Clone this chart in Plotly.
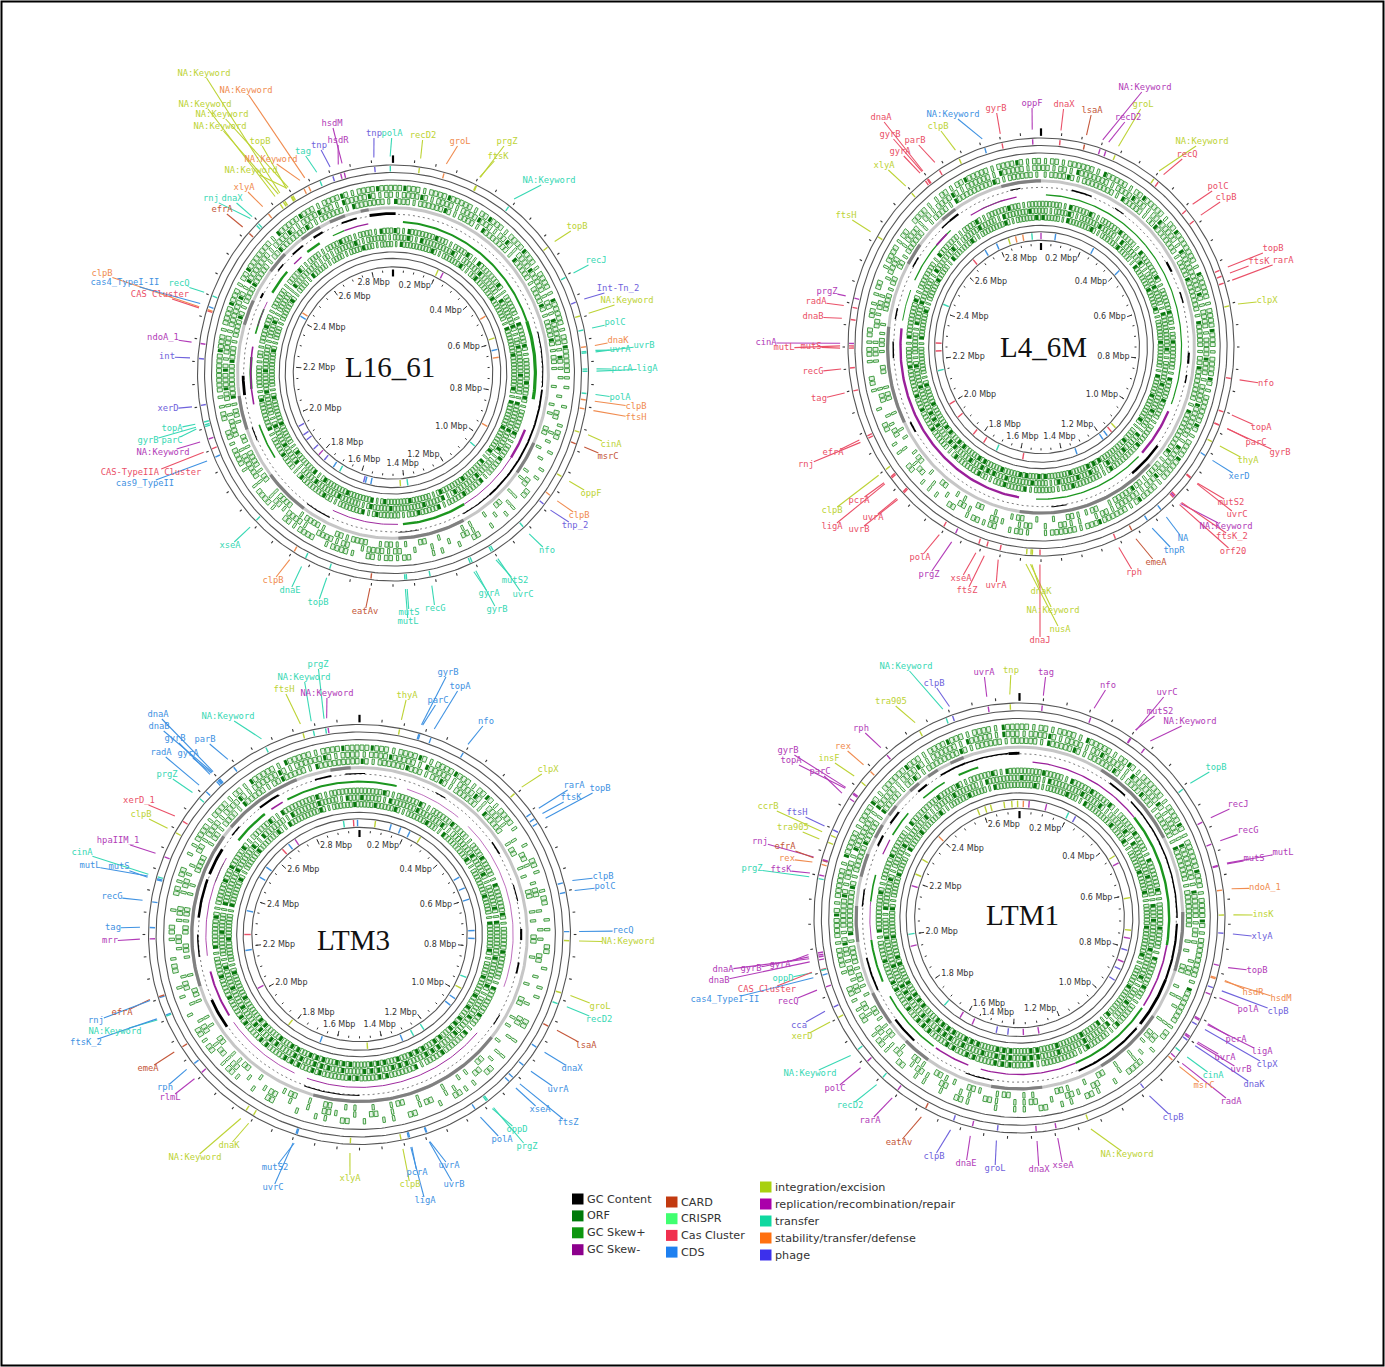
import numpy as np
import plotly.graph_objects as go

W, H = 1385, 1367

COLORS = {'I': '#bdd335', 'R': '#b23cb8', 'T': '#38d8b4', 'S': '#f08c50', 'P': '#6f62dc',
          'A': '#c4573a', 'C': '#ea5068', 'D': '#3f92e2'}

# ---- L16_61 ----
L16_NAMES = ['NA:Keyword', 'NA:Keyword', 'NA:Keyword', 'NA:Keyword', 'NA:Keyword', 'topB', 'NA:Keyword', 'NA:Keyword',
             'xlyA', 'rnj', 'dnaX', 'efrA', 'tag', 'tnp', 'hsdM', 'hsdR', 'tnp', 'polA', 'recD2', 'groL', 'prgZ', 'ftsK',
             'NA:Keyword', 'topB', 'recJ', 'Int-Tn_2', 'NA:Keyword', 'polC', 'dnaK', 'uvrB', 'uvrA', 'pcrA', 'ligA', 'polA',
             'clpB', 'ftsH', 'cinA', 'msrC', 'oppF', 'clpB', 'tnp_2', 'nfo', 'uvrC', 'mutS2', 'gyrA', 'gyrB', 'recG', 'mutS',
             'mutL', 'eatAv', 'topB', 'dnaE', 'clpB', 'xseA', 'cas9_TypeII', 'CAS-TypeIIA Cluster', 'NA:Keyword', 'parC',
             'gyrB', 'topA', 'xerD', 'int', 'ndoA_1', 'CAS Cluster', 'clpB', 'cas4_TypeI-II', 'recQ']
L16_KINDS = 'ISIIIISISTTATPRRPTISIITITPITSTTTTTSSIAISPTTTTTTTTATTSTDCRTTTPPRCSDT'
L16_DEG = [-33.8, -25.7, -35.4, -31, -34.3, -31.6, -27.2, -31.4, -39.8, -44.5, -43.8, -47.6, -22, -18, -14.5, -15.6, -5.4,
           -0.8, 7.8, 15.2, 25.4, 25.2, 36.5, 52.6, 62.5, 70, 74, 78, 82.7, 84.4, 84, 88.9, 89.5, 95.7, 97.5, 100, 106.6,
           110, 120, 126.2, 129.3, 138, 149, 149.6, 156.6, 156, 169, 176, 176.5, 186.5, 199, 206.7, 210.5, 224.6, 246,
           248.5, 251.4, 255, 255.5, 256.3, 261, 274, 278.2, 287.5, 287.8, 288.7, 291.9]
L16_LAB_X = [204, 246, 205, 222, 220, 260, 271, 251, 244, 211, 232, 222, 303, 319, 332, 338, 374, 392, 423, 460, 507, 498,
             549, 577, 596, 618, 627, 615, 618, 644, 620, 622, 647, 620, 636, 636, 611, 608, 591, 579, 575, 547, 523, 515,
             489, 497, 435, 409, 408, 365, 318, 290, 273, 230, 145, 151, 163, 172, 148, 172, 168, 167, 163, 160, 102, 125, 179]
L16_LAB_Y = [74, 91, 105, 115, 127, 142, 160, 171, 188, 199, 199, 210, 152, 146, 124, 141, 134, 134, 136, 142, 142, 157,
             181, 227, 261, 289, 301, 323, 341, 346, 350, 369, 369, 398, 407, 418, 445, 457, 494, 516, 526, 551, 595, 581,
             594, 610, 609, 613, 622, 612, 603, 591, 581, 546, 484, 473, 453, 441, 441, 429, 409, 357, 338, 295, 274, 283, 284]
L16_INNER_DEG = [-168, -165, -150, -146, -140, -132, -126, -118, -60, -58, 25, 28, 60, 72, 78, 82, 118, 130, 172, 176, 196, 224, 237]
L16_INNER_KIND = 'DDTDPPPPDSIRSIDSSTTIPRP'
L16_DARK = [(-73, -64), (-52, -44), (-36, -28), (-24, -18), (-12, -9), (115, 127), (153, 178), (215, 232), (250, 262)]
L16_GC = [(-9, 1, 4), (-20, -14, 2.5), (-32, -28, 3), (-42, -37, 2.5), (-50, -47, 2), (-62, -60, 3), (75, 95, 1.5),
          (96, 140, 2.5), (140, 152, 1.5), (262, 269, 4), (245, 250, 1.5), (205, 215, 1.5), (170, 178, 1)]
L16_SKEW_POS = [(4, 70, 2.5), (70, 100, 4), (150, 176, 3), (-37, -31, 3), (-25, -20, 1.5), (-58, -48, 3), (-75, -65, 2),
                (-96, -84, 3), (236, 250, 2)]
L16_SKEW_NEG = [(-20, -10, 1.5), (-44, -40, 1.5), (-72, -62, 1), (112, 124, 3), (124, 150, 1.2), (178, 205, 1.2), (258, 280, 2)]
L16_ORF = ['232122322123212232122132212322110101201011020110102010110021212012210221201221012212021122223212232123222132232122312232',
           '122312212232123122322121322131101020110100201101001201010102122102122012212101222102211232312212223132221223122321322312',
           '321222312213222132212231223121010110201001101020101100102011210221201221022102122120121322232122312232212322231222132221',
           '313222321223132223122213223122232312223122322132232213223212223132221232223122322132223122212122321222122312212232122132',
           '223132222312223222132223123222322132223223122232223132232222322312223222322132232231222322322212231222132222121222312221',
           '132222312223123222322213222322223132223222313222322231222322231322232223132223122232223122222312212223122132212212232122']
L4_NAMES = ['NA:Keyword', 'groL', 'recD2', 'lsaA', 'dnaX', 'oppF', 'gyrB', 'NA:Keyword', 'clpB', 'dnaA', 'gyrB', 'gyrA', 'parB',
            'xlyA', 'ftsH', 'prgZ', 'radA', 'dnaB', 'cinA', 'mutL', 'mutS', 'recG', 'tag', 'efrA', 'rnj', 'clpB', 'pcrA', 'ligA',
            'uvrA', 'uvrB', 'polA', 'prgZ', 'xseA', 'ftsZ', 'uvrA', 'dnaK', 'dnaJ', 'NA:Keyword', 'nusA', 'rph', 'emeA', 'tnpR',
            'NA', 'orf20', 'ftsK_2', 'NA:Keyword', 'uvrC', 'mutS2', 'xerD', 'thyA', 'gyrB', 'parC', 'topA', 'nfo', 'clpX', 'rarA',
            'ftsK', 'topB', 'clpB', 'polC', 'recQ', 'NA:Keyword']
L4_KINDS = 'RIRACRCDICCCCIIRCCRCCCCCCICCCCCRCCCICIICADDCCRCCDICCCCICCCCCCI'
L4_DEG = [17.9, 22.7, 19.7, 13.1, 5.7, -2.5, -11.7, -17, -25.2, -36, -36.3, -37, -31.9, -42.3, -58, -76.4, -79, -82.4, -89, -89.7,
          -90.3, 264.2, 257.8, 244.7, 244, 233.9, 231.4, 231, 225.9, 225.5, 210.4, 206.4, 198.9, 196.4, 192.3, 182.6, 180.3, 183,
          184.3, 157.2, 151.8, 146.4, 141.4, 136.4, 135.6, 136, 129, 128.8, 121.4, 117.1, 112.1, 112, 108.2, 98.7, 78.6, 72.1, 70.1,
          68.4, 52.7, 49, 37.6, 36]
L4_LAB_X = [1145, 1143, 1128, 1092, 1064, 1032, 996, 953, 938, 881, 890, 900, 915, 884, 846, 827, 816, 813, 766, 784, 811, 813,
            819, 833, 806, 832, 859, 832, 873, 859, 920, 929, 961, 967, 996, 1041, 1040, 1053, 1060, 1134, 1156, 1174, 1183, 1233,
            1232, 1226, 1237, 1231, 1239, 1248, 1280, 1256, 1261, 1266, 1267, 1283, 1259, 1273, 1226, 1218, 1187, 1202]
L4_LAB_Y = [88, 105, 118, 111, 105, 104, 109, 115, 127, 118, 135, 152, 141, 166, 216, 292, 302, 317, 343, 348, 347, 372,
            399, 453, 465, 511, 501, 527, 518, 530, 558, 575, 579, 591, 586, 592, 641, 611, 630, 573, 563, 551, 539, 552,
            537, 527, 515, 503, 477, 461, 453, 443, 428, 384, 301, 261, 262, 249, 198, 187, 155, 142]
L4_INNER_DEG = [-40, -32, -25, -18, -14, -10, -5, 0, 8, 30, 48, 135, 138, 141, 144, 160, 190, 205, 213, 220, 232, 240, 258, 268, 272, 292]
L4_INNER_KIND = 'CDDISSTRDDDICDDDCTCCCCTCCT'
L4_DARK = [(-60, -52), (-40, -34), (-15, 0), (135, 188), (243, 277)]
L4_GC = [(-38, -34, 3), (-12, -8, 1.5), (12, 20, 2), (30, 34, 1.5), (58, 62, 3), (70, 74, 2), (92, 96, 3), (100, 103, 2),
         (128, 142, 3.5), (170, 176, 1.5), (238, 242, 2.5), (266, 272, 2), (280, 284, 2), (300, 304, 2), (318, 322, 2)]
L4_SKEW_POS = [(2, 48, 1.6), (48, 112, 1.5), (136, 182, 1.6), (280, 292, 1.2), (296, 320, 1.6), (335, 345, 1)]
L4_SKEW_NEG = [(115, 134, 3), (189, 277, 3), (-30, -10, 1.5), (-48, -42, 2)]
L4_ORF = ['121222132212322123222132212232122312223122322122312223212221012102121020111020110201012012120211201221202211212322122312',
          '212132221223212322132222312212232122322213222321222121011201021012001201010210102110210012102121012201221212231222132212',
          '122312222132212322212232221322123222132222312212322102112010102101020110201021011010210201211022120212221122132222312221',
          '222132231222322132223122232123222132232212223222231222232122213223212322231222322323222322132222312222132221223122232122',
          '212231222322132223122322132222312223222322132232231232322312232223233323223322333222322312221322322213222312223221322232',
          '322132223122232213222322312223222132232223122322223332232223323322322332233233222322312222132223122232213222312222312223']
LTM3_NAMES = ['ftsH', 'NA:Keyword', 'prgZ', 'NA:Keyword', 'thyA', 'gyrB', 'parC', 'topA', 'nfo', 'clpX', 'rarA', 'topB', 'ftsK',
              'clpB', 'polC', 'recQ', 'NA:Keyword', 'groL', 'recD2', 'lsaA', 'dnaX', 'uvrA', 'ftsZ', 'xseA', 'oppD', 'prgZ', 'polA',
              'uvrA', 'uvrB', 'pcrA', 'ligA', 'clpB', 'xlyA', 'mutS2', 'uvrC', 'dnaK', 'NA:Keyword', 'rlmL', 'rph', 'emeA', 'ftsK_2',
              'NA:Keyword', 'rnj', 'efrA', 'mrr', 'tag', 'recG', 'mutS', 'mutL', 'cinA', 'hpaIIM_1', 'clpB', 'xerD_1', 'prgZ', 'radA',
              'gyrA', 'gyrB', 'dnaB', 'dnaA', 'parB', 'NA:Keyword']
LTM3_KINDS = 'ITTRIDDDDIDDDDDDIITADDDDTTDDDDDIIDDIIRDADTDARDDDDTRICTDDDDDDT'
LTM3_DEG = [-15.6, -12.7, -9.3, -8.6, 11, 16.4, 16.7, 19.9, 29.6, 47.6, 54.7, 57.9, 56.4, 75.7, 78.4, 89.2, 91.7, 106.2, 109.3, 116,
            122.6, 128.7, 133.1, 134.6, 142.8, 142.4, 146.6, 161.3, 161.5, 166.2, 166.5, 168.6, 182.5, 197.3, 197.6, 210.3, 212.7,
            228.7, 231.9, 237.5, 247.3, 247, 252.4, 252.7, 268.8, 271.9, 279, 285.2, 285.5, 286, 291.8, 299.1, 302.8, 310.5, 313.1,
            317.6, 317.1, 317.9, 318.2, 323.2, 333.5]
LTM3_LAB_X = [284, 304, 318, 327, 407, 448, 438, 460, 486, 548, 574, 600, 571, 603, 605, 623, 628, 600, 599, 586, 572, 558, 568, 540,
              517, 527, 502, 449, 454, 417, 425, 410, 350, 275, 273, 229, 195, 170, 165, 148, 86, 115, 96, 122, 110, 113, 112, 119,
              90, 82, 118, 141, 139, 167, 161, 188, 175, 159, 158, 205, 228]
LTM3_LAB_Y = [690, 678, 665, 694, 696, 673, 701, 687, 722, 770, 786, 789, 798, 877, 887, 931, 942, 1007, 1020, 1046, 1069, 1090, 1123,
              1110, 1130, 1147, 1140, 1166, 1185, 1173, 1201, 1185, 1179, 1168, 1188, 1146, 1158, 1098, 1088, 1069, 1043, 1032, 1021,
              1013, 941, 928, 897, 867, 866, 853, 841, 815, 801, 775, 753, 754, 739, 727, 715, 740, 717]
LTM3_INNER_DEG = [-8, -3, -1, 8, 16, 21, 26, 32, 60, 66, 72, 88, 92, 112, 118, 124, 128, 146, 152, 158, 176, 200, 218, 242, 262, 270,
                  282, 300, 306, 318, 322, 326]
LTM3_INNER_KIND = 'TCDIDDDIDDDDDTIDDTTDIDIRDCDDDCDR'
LTM3_DARK = [(-10, -3), (-50, -22), (-60, -54), (252, 300), (128, 196)]
LTM3_GC = [(-16, -10, 2.5), (-38, -30, 3), (-5, 2, 1.5), (28, 32, 1.5), (55, 60, 2), (72, 78, 1.5), (88, 92, 3), (100, 104, 2.5),
           (120, 124, 1.5), (180, 200, 1.5), (235, 246, 4), (262, 270, 2), (276, 290, 3.5), (292, 302, 4), (-52, -48, 2)]
LTM3_SKEW_POS = [(-28, 14, 2.5), (-52, -38, 3), (-70, -62, 1), (310, 316, 1)]
LTM3_SKEW_NEG = [(-35, -30, 2), (18, 40, 0.8), (45, 110, 0.8), (130, 200, 1.2), (205, 235, 1), (238, 256, 2.5), (262, 300, 1)]
LTM3_ORF = ['232122312232123122101021012011020101100201010201120100201101020110100201012102120101102101201021201122122121322132212232',
            '122322132212231221010210120101102010010201011020011021001020101201010210102121021010210012012012110212212231222312223122',
            '312223212312221322012011020110201001020110100201101001021010110201021001021102011012010120212011022012122132212322132222',
            '222312223122232212232213222312223222132223213222322132223322332223323332233223322322322132223122232322312223132222312222',
            '322132223222312222322312223132222322231222322322333223332333223233323322332332232232231222322132222322231322213222322132',
            '223223122232132222312222322132223122322323233323323332323332233323332332322332223222312223222132223122232223132222312223']
LTM1_NAMES = ['NA:Keyword', 'clpB', 'uvrA', 'tnp', 'tag', 'nfo', 'uvrC', 'mutS2', 'NA:Keyword', 'topB', 'recJ', 'recG', 'mutL', 'mutS',
              'ndoA_1', 'insK', 'xlyA', 'topB', 'hsdR', 'hsdM', 'clpB', 'polA', 'pcrA', 'ligA', 'clpX', 'uvrA', 'uvrB', 'dnaK', 'cinA',
              'msrC', 'radA', 'clpB', 'NA:Keyword', 'xseA', 'dnaX', 'groL', 'dnaE', 'clpB', 'eatAv', 'rarA', 'recD2', 'polC', 'NA:Keyword',
              'xerD', 'cca', 'recQ', 'cas4_TypeI-II', 'CAS Cluster', 'oppD', 'dnaB', 'dnaA', 'gyrB', 'gyrA', 'ftsK', 'prgZ', 'rex', 'efrA',
              'rnj', 'tra905', 'ftsH', 'ccrB', 'parC', 'topA', 'gyrB', 'insF', 'rex', 'rph', 'tra905']
LTM1_KINDS = 'TPRIRRRRRTRRRRSIPRSSPRRRPRRPTSRPIRRPRPARTRTIPRDCTRRRRRTSARIPIRRRISRI'
LTM1_DEG = [-21, -19.1, -8.8, -2.6, 6.4, 20.4, 33, 32.8, 37.7, 53, 63.4, 69.8, 75.8, 76, 82.5, 89.2, 94.1, 102.8, 106.2, 106.5, 109,
            110.9, 118.2, 118.5, 119.9, 123.6, 124, 124.8, 128.4, 131.6, 130.5, 142.6, 160.5, 169.7, 175.3, 186.2, 193.3, 198.8, 207.3,
            216.5, 221.9, 228, 232.1, 242.3, 245.4, 251.2, 254.5, 256, 255.8, 258.7, 259.5, 260, 260.6, -78.4, -79.4, -75.5, -74.4, -74.2,
            -69.3, -65.7, -67.3, -56.1, -54.6, -54.3, -50.6, -46.8, -40.4, -29.2]
LTM1_LAB_X = [906, 934, 984, 1011, 1046, 1108, 1167, 1160, 1190, 1216, 1238, 1248, 1283, 1254, 1265, 1263, 1262, 1257, 1253, 1281, 1278,
              1248, 1236, 1262, 1267, 1225, 1241, 1254, 1213, 1204, 1231, 1173, 1127, 1063, 1039, 995, 966, 934, 899, 870, 850, 835, 810,
              802, 799, 788, 725, 767, 783, 719, 723, 751, 780, 781, 752, 787, 785, 760, 793, 797, 768, 820, 791, 788, 829, 843, 861, 891]
LTM1_LAB_Y = [667, 684, 673, 671, 673, 686, 693, 712, 722, 768, 805, 831, 853, 859, 888, 915, 937, 971, 993, 999, 1012, 1010, 1040, 1052,
              1065, 1058, 1070, 1085, 1076, 1086, 1102, 1118, 1155, 1166, 1170, 1169, 1164, 1157, 1143, 1121, 1106, 1089, 1074, 1037, 1026,
              1002, 1000, 990, 979, 981, 970, 969, 965, 870, 869, 859, 847, 842, 828, 813, 807, 772, 761, 751, 759, 747, 729, 702]
LTM1_INNER_DEG = [-8, -4, -1, 2, 5, -15, -18, -22, -46, -60, -68, -74, -98, -104, 14, 26, 30, 58, 62, 80, 96, 100, 106, 112, 116, 122, 178, 170, 186, 192, 205, 212, 222]
LTM1_INNER_KIND = 'IIISRIIISIIRTRRTPIRIIRPRPPRRPPRRT'
LTM1_DARK = [(-53, -49), (-62, -57), (-42, -38), (-34, -30), (-25, -20), (30, 62), (88, 108), (125, 150), (172, 190), (214, 224), (232, 244), (262, 274), (284, 292)]
LTM1_GC = [(-20, -4, 2), (-4, 0, 4), (-30, -20, 2.5), (-40, -36, 3), (-55, -50, 3), (-64, -60, 3), (35, 42, 2.5), (45, 62, 2), (62, 90, 2),
           (92, 112, 3), (112, 130, 4), (132, 158, 3), (190, 200, 1.5), (222, 232, 3), (244, 256, 2.5), (274, 280, 2)]
LTM1_SKEW_POS = [(50, 100, 3), (125, 158, 2.5), (215, 240, 2), (246, 262, 2.5), (276, 286, 2), (-58, -48, 2), (-40, -30, 2), (-24, -16, 2.5)]
LTM1_SKEW_NEG = [(5, 40, 1.6), (40, 50, 1.6), (100, 124, 2), (158, 195, 1.6), (200, 214, 2), (262, 276, 1), (-66, -60, 1.5)]
LTM1_ORF = ['212122132212312221223122232122312222132221201022010120110201101001201011020121021120122122312221322122312223212232122132',
            '122312212322132223122132221322121012001101020110100201201021101201102012102112012021212312223122132221322122312221322132',
            '221322312223122321222132221222201102011001021010102010120011021012011201201021120112122132222312223221322123122223122212',
            '222322132232231222322132223122232213222321222312223122222132233322332332233323223322322132222312223222132222322312223132',
            '322132222322312223132222322132322232223122322132223222322333233323223233323322333223222322132223122232222312223222132222',
            '223122232132222322312223223122232223122232222313223222322332233322333233332233323223322322231222322132232223122232213222']

PANELS = [
    dict(title='L16_61', size=2.9, cx=393, cy=373, rx=195.5, ry=208, tx=390, ty=367, names=L16_NAMES, kinds=L16_KINDS, deg=L16_DEG,
         lx=L16_LAB_X, ly=L16_LAB_Y, ideg=L16_INNER_DEG, ikind=L16_INNER_KIND, dark=L16_DARK, gc=L16_GC, pos=L16_SKEW_POS,
         neg=L16_SKEW_NEG, orf=L16_ORF),
    dict(title='L4_6M', size=3.0, cx=1041, cy=347, rx=193, ry=209, tx=1043, ty=347, names=L4_NAMES, kinds=L4_KINDS, deg=L4_DEG,
         lx=L4_LAB_X, ly=L4_LAB_Y, ideg=L4_INNER_DEG, ikind=L4_INNER_KIND, dark=L4_DARK, gc=L4_GC, pos=L4_SKEW_POS,
         neg=L4_SKEW_NEG, orf=L4_ORF),
    dict(title='LTM3', size=3.0, cx=359.5, cy=934.5, rx=211, ry=210, tx=353, ty=940, names=LTM3_NAMES, kinds=LTM3_KINDS, deg=LTM3_DEG,
         lx=LTM3_LAB_X, ly=LTM3_LAB_Y, ideg=LTM3_INNER_DEG, ikind=LTM3_INNER_KIND, dark=LTM3_DARK, gc=LTM3_GC, pos=LTM3_SKEW_POS,
         neg=LTM3_SKEW_NEG, orf=LTM3_ORF),
    dict(title='LTM1', size=2.75, cx=1019.5, cy=918, rx=205.5, ry=215, tx=1022, ty=915, names=LTM1_NAMES, kinds=LTM1_KINDS, deg=LTM1_DEG,
         lx=LTM1_LAB_X, ly=LTM1_LAB_Y, ideg=LTM1_INNER_DEG, ikind=LTM1_INNER_KIND, dark=LTM1_DARK, gc=LTM1_GC, pos=LTM1_SKEW_POS,
         neg=LTM1_SKEW_NEG, orf=LTM1_ORF, push_left=[1.4]),
]

LEGEND_1 = ['GC Content', 'ORF', 'GC Skew+', 'GC Skew-']
LEGEND_1_COL = ['#000000', '#007a0a', '#0d960f', '#8c008c']
LEGEND_2 = ['CARD', 'CRISPR', 'Cas Cluster', 'CDS']
LEGEND_2_COL = ['#c23a10', '#40ff70', '#f0304f', '#1e80f0']
LEGEND_3 = ['integration/excision', 'replication/recombination/repair', 'transfer', 'stability/transfer/defense', 'phage']
LEGEND_3_COL = ['#a8d010', '#aa00aa', '#10d8a0', '#ff7010', '#3c30ec']


def polar(r, deg):
    a = np.radians(deg)
    return r * np.sin(a), r * np.cos(a)


def arc(r, a, b):
    d = np.linspace(a, b, max(2, int(abs(b - a)) + 2))
    return polar(r, d)


def add_line(fig, xs, ys, color, width, ax, dash=None):
    fig.add_trace(go.Scatter(x=xs, y=ys, mode='lines', line=dict(color=color, width=width, dash=dash),
                             hoverinfo='skip', showlegend=False, xaxis=ax[0], yaxis=ax[1]))


def spokes(pairs):
    xs, ys = [], []
    for r0, r1, d in pairs:
        x0, y0 = polar(r0, d)
        x1, y1 = polar(r1, d)
        xs += [x0, x1, None]
        ys += [y0, y1, None]
    return xs, ys


def boxes(items):
    xs, ys = [], []
    for r0, r1, a, b in items:
        for r, d in [(r0, a), (r1, a), (r1, b), (r0, b), (r0, a)]:
            x, y = polar(r, d)
            xs.append(x)
            ys.append(y)
        xs.append(None)
        ys.append(None)
    return xs, ys


fig = go.Figure()
TRACKS = [(176, 171), (169.7, 164.7), (163.4, 158.4), (136, 131), (129.7, 124.7), (123.4, 118.4)]
layout = {}

for n, p in enumerate(PANELS):
    sfx = '' if n == 0 else str(n + 1)
    ax = ('x' + sfx, 'y' + sfx)
    sx, sy = p['rx'] / 195, p['ry'] / 195
    layout['xaxis' + sfx] = dict(range=[-p['cx'] / sx, (W - p['cx']) / sx], domain=[0, 1], visible=False, anchor=ax[1])
    layout['yaxis' + sfx] = dict(range=[(p['cy'] - H) / sy, p['cy'] / sy], domain=[0, 1], visible=False, anchor=ax[0])

    # orf tracks, each orf a small outlined box, the long ones solid
    light, dark = [], []
    for (r0, r1), codes in zip(TRACKS, p['orf']):
        step = 360 / len(codes)
        for i, c in enumerate(codes):
            a = i * step
            if c == '1':
                light.append((r0, r1, a + 0.38 * step, a + 0.62 * step))
            if c == '2':
                light.append((r0, r1, a + 0.05 * step, a + 0.45 * step))
                light.append((r0, r1, a + 0.55 * step, a + 0.95 * step))
            if c == '3':
                dark.append((r0, r1, a + 0.3 * step))
                light.append((r0, r1, a + 0.55 * step, a + 0.95 * step))
    bx, by = boxes(light)
    fig.add_trace(go.Scatter(x=bx, y=by, mode='lines', fill='toself', fillcolor='#e6f3e6',
                             line=dict(color='#3a983a', width=0.95), hoverinfo='skip', showlegend=False,
                             xaxis=ax[0], yaxis=ax[1]))
    add_line(fig, *spokes(dark), '#0a780f', 3, ax)

    # rings
    for r in [195, 188, 181, 113.5, 107.5, 99.5]:
        add_line(fig, *arc(r, 0, 360), '#555555', 1.1, ax)

    # coverage ring, gc content, gc skew
    add_line(fig, *arc(155, 0, 360), '#c6c6c6', 3, ax)
    for a, b in p['dark']:
        add_line(fig, *arc(155, a, b), '#808080', 3.2, ax)
    add_line(fig, *arc(149, 0, 360), '#222222', 0.6, ax, dash='2px,3px')
    for a, b, w in p['gc']:
        add_line(fig, *arc(149.5, a, b), '#000000', w * 0.7, ax)
    for a, b, w in p['pos']:
        add_line(fig, *arc(142, a, b), '#1c961f', w * 0.8, ax)
    for a, b, w in p['neg']:
        add_line(fig, *arc(142, a, b), '#9a209a', w * 0.8, ax)

    # scale ticks, outer and inner
    marks = np.arange(0, p['size'], 0.05)
    degs = marks / p['size'] * 360
    add_line(fig, *spokes([(198, 200.5, d) for d in degs]), '#333333', 1.1, ax)
    add_line(fig, *spokes([(197, 204, 0)]), '#000000', 2.2, ax)
    add_line(fig, *spokes([(96.5, 94.5, d) for d in degs]), '#333333', 1.0, ax)
    add_line(fig, *spokes([(97, 90.5, 0)]), '#000000', 2.2, ax)
    values = [round(0.2 * k, 1) for k in range(1, 15) if 0.2 * k < p['size'] - 0.05]
    add_line(fig, *spokes([(96.5, 91.5, v / p['size'] * 360) for v in values]), '#333333', 1.0, ax)
    for v in values:
        d = v / p['size'] * 360
        x, y = polar(90, d)
        s, c = np.sin(np.radians(d)), np.cos(np.radians(d))
        if v in p.get('push_left', []):
            pos = 'top left'
        elif c < 0 and abs(s) < 0.36:
            pos = 'top center'
        elif c > 0 and abs(s) < 0.22:
            pos = 'bottom center'
        else:
            pos = 'middle left' if s > 0 else 'middle right'
        fig.add_trace(go.Scatter(x=[x], y=[y], mode='text', text=[f'{v:.1f} Mbp'], textposition=pos,
                                 textfont=dict(family='DejaVu Sans', size=8, color='#333333'),
                                 hoverinfo='skip', showlegend=False, xaxis=ax[0], yaxis=ax[1]))

    # small features on the inner ring
    for d, k in zip(p['ideg'], p['ikind']):
        add_line(fig, *spokes([(100.5, 106.5, d)]), COLORS[k], 1.4, ax)

    # genes: feature on the outer ring, leader and label
    for d, k in zip(p['deg'], p['kinds']):
        add_line(fig, *spokes([(189, 194, d)]), COLORS[k], 1.4, ax)
    lead = {k: ([], []) for k in COLORS}
    tx, ty, tc = [], [], []
    for name, k, d, lx, ly in zip(p['names'], p['kinds'], p['deg'], p['lx'], p['ly']):
        ux, uy = polar(203, d)
        px0, py0 = p['cx'] + ux * sx, p['cy'] - uy * sy
        dx, dy = lx - px0, ly - py0
        length = max(np.hypot(dx, dy), 1)
        hw, hh = 2.6 * len(name), 4
        cut = min(hw / max(abs(dx) / length, 1e-3), hh / max(abs(dy) / length, 1e-3))
        keep = max(length - cut, 0.1 * length) / length
        px1, py1 = px0 + dx * keep, py0 + dy * keep
        lead[k][0].extend([ux, (px1 - p['cx']) / sx, None])
        lead[k][1].extend([uy, (p['cy'] - py1) / sy, None])
        tx.append((lx - p['cx']) / sx)
        ty.append((p['cy'] - ly) / sy)
        tc.append(COLORS[k])
    for k, (xs, ys) in lead.items():
        if xs:
            add_line(fig, xs, ys, COLORS[k], 1.1, ax)
    fig.add_trace(go.Scatter(x=tx, y=ty, mode='text', text=p['names'], textposition='middle center',
                             textfont=dict(family='DejaVu Sans Mono', size=8.8, color=tc),
                             hoverinfo='skip', showlegend=False, xaxis=ax[0], yaxis=ax[1]))

annotations, shapes = [], []
for p in PANELS:
    annotations.append(dict(x=p['tx'] / W, y=1 - p['ty'] / H, xref='paper', yref='paper', text=p['title'], showarrow=False,
                            xanchor='center', yanchor='middle',
                            font=dict(family='Liberation Serif', size=29, color='#111111')))

LEGEND_COLUMNS = [(LEGEND_1, LEGEND_1_COL, 572, 1199, 16.9), (LEGEND_2, LEGEND_2_COL, 666, 1202, 16.7), (LEGEND_3, LEGEND_3_COL, 760, 1187, 17)]
for names, cols, x0, y0, dy in LEGEND_COLUMNS:
    for i, (nm, col) in enumerate(zip(names, cols)):
        y = y0 + i * dy
        shapes.append(dict(type='rect', xref='paper', yref='paper', x0=x0 / W, x1=(x0 + 11.5) / W, y0=1 - (y - 5.5) / H,
                           y1=1 - (y + 5.5) / H, fillcolor=col, line=dict(width=0)))
        annotations.append(dict(x=(x0 + 12.5) / W, y=1 - y / H, xref='paper', yref='paper', text=nm, showarrow=False, xanchor='left',
                                yanchor='middle', font=dict(family='DejaVu Sans', size=11.2, color='#333333')))

shapes.append(dict(type='rect', xref='paper', yref='paper', x0=1.5 / W, x1=(W - 1.5) / W, y0=1.5 / H, y1=1 - 1.5 / H,
                   line=dict(color='#000000', width=2)))

fig.update_layout(width=W, height=H, margin=dict(l=0, r=0, t=0, b=0), paper_bgcolor='white', plot_bgcolor='rgba(0,0,0,0)',
                  showlegend=False, annotations=annotations, shapes=shapes, **layout)
fig.write_html("out.html", config={'displayModeBar': False}, post_script="document.body.style.margin='0';")
